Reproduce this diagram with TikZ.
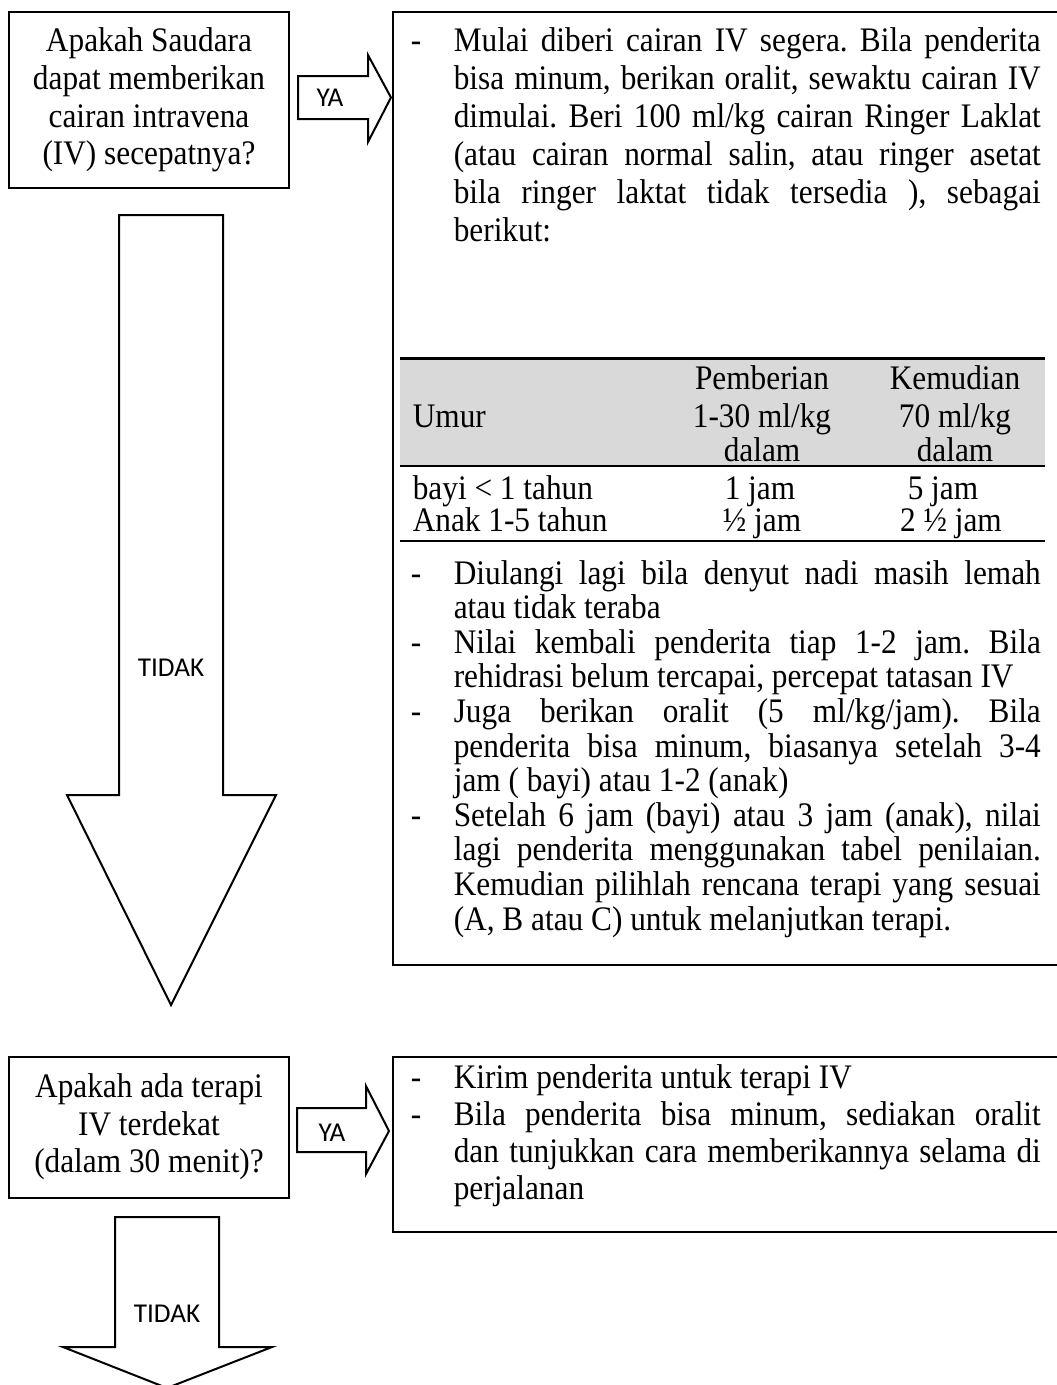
\documentclass[tikz,border=0pt]{standalone}
\usepackage{fontspec}
\setmainfont[FakeStretch=0.91]{Liberation Serif}
\newfontfamily\sanslab{Carlito}
\frenchspacing
\newcommand\serifsz{\fontsize{8.6}{9.5}\selectfont}
\tikzset{
  outl/.style={draw=black, line width=0.5pt, fill=white},
  txt/.style={anchor=base west, inner sep=0pt, font=\serifsz},
  dsh/.style={anchor=base, inner sep=0pt, font=\serifsz},
  ctr/.style={anchor=base, inner sep=0pt, font=\serifsz},
  lab/.style={inner sep=0pt, font=\sanslab\fontsize{6.8}{8}\selectfont},
  qtext/.style={inner sep=0pt, align=center, font=\fontsize{8.6}{9.4}\selectfont},
  rulethick/.style={line width=0.75pt},
  rulemid/.style={line width=0.6pt}
}
\newcommand\JL[3]{\node[txt] (#1) at (453,#2) {\makebox[146.75pt][s]{#3}};}
\newcommand\NL[3]{\node[txt] (#1) at (453,#2) {#3};}
\newcommand\DL[2]{\node[dsh] (#1) at (416,#2) {-};}
\begin{document}
\begin{tikzpicture}[x=0.25pt, y=-0.25pt]
\useasboundingbox (0,0) rectangle (1057,1385);
\clip (0,0) rectangle (1057,1385);
\fill[white] (0,0) rectangle (1057,1385);

% ---------- question boxes ----------
\draw[outl] (9,12) rectangle (289,188);
\node[qtext] (q1) at (149,100) {Apakah Saudara\\dapat memberikan\\cairan intravena\\(IV) secepatnya?};
\draw[outl] (9,1057) rectangle (289,1198);
\node[qtext] (q2) at (149,1127) {Apakah ada terapi\\IV terdekat\\(dalam 30 menit)?};

% ---------- YA arrows ----------
\draw[outl] (298,76) -- (368,76) -- (368,55) -- (391,97.5) -- (368,142) -- (368,119) -- (298,119) -- cycle;
\node[lab] (ya1) at (330,98) {YA};
\draw[outl] (297,1108) -- (366,1108) -- (366,1086) -- (389,1131) -- (366,1174) -- (366,1152) -- (297,1152) -- cycle;
\node[lab] (ya2) at (332,1133) {YA};

% ---------- TIDAK arrows ----------
\draw[outl] (119,215) -- (223,215) -- (223,795) -- (276,795) -- (171,1005) -- (67,795) -- (119,795) -- cycle;
\node[lab] (no1) at (171,668) {TIDAK};
\draw[outl] (115,1217) -- (219,1217) -- (219,1347) -- (272,1347) -- (167,1388) -- (63,1347) -- (115,1347) -- cycle;
\node[lab] (no2) at (167,1314) {TIDAK};

% ---------- action box 1 ----------
\draw[outl] (393,12) rectangle (1075,965);
\DL{d1}{51}
\JL{a1}{51}{Mulai diberi cairan IV segera. Bila penderita}
\JL{a2}{89}{bisa minum, berikan oralit, sewaktu cairan IV}
\JL{a3}{127}{dimulai. Beri 100 ml/kg cairan Ringer Laklat}
\JL{a4}{165}{(atau cairan normal salin, atau ringer asetat}
\JL{a5}{203}{bila ringer laktat tidak tersedia ), sebagai}
\NL{a6}{241}{berikut:}

% table
\fill[black!15] (400,358) rectangle (1045,466);
\draw[rulethick] (400,358) -- (1045,358);
\draw[rulemid] (400,466) -- (1045,466);
\draw[rulemid] (400,541) -- (1045,541);
\node[ctr] (h21) at (762,389) {Pemberian};
\node[ctr] (h31) at (955,389) {Kemudian};
\node[txt] (h11) at (412,427) {Umur};
\node[ctr] (h22) at (762,427) {1-30 ml/kg};
\node[ctr] (h32) at (955,427) {70 ml/kg};
\node[ctr] (h23) at (762,461) {dalam};
\node[ctr] (h33) at (955,461) {dalam};
\node[txt] (r11) at (412,499) {bayi < 1 tahun};
\node[ctr] (r12) at (760,499) {1 jam};
\node[ctr] (r13) at (943,499) {5 jam};
\node[txt] (r21) at (412,531) {Anak 1-5 tahun};
\node[ctr] (r22) at (762,531) {½ jam};
\node[ctr] (r23) at (951,531) {2 ½ jam};

\DL{d2}{584}
\JL{b1}{584}{Diulangi lagi bila denyut nadi masih lemah}
\NL{b2}{618.6}{atau tidak teraba}
\DL{d3}{653.2}
\JL{b3}{653.2}{Nilai kembali penderita tiap 1-2 jam. Bila}
\NL{b4}{687.8}{rehidrasi belum tercapai, percepat tatasan IV}
\DL{d4}{722.4}
\JL{b5}{722.4}{Juga berikan oralit (5 ml/kg/jam). Bila}
\JL{b6}{757}{penderita bisa minum, biasanya setelah 3-4}
\NL{b7}{791.6}{jam ( bayi) atau 1-2 (anak)}
\DL{d5}{826.2}
\JL{b8}{826.2}{Setelah 6 jam (bayi) atau 3 jam (anak), nilai}
\JL{b9}{860.8}{lagi penderita menggunakan tabel penilaian.}
\JL{b10}{895.4}{Kemudian pilihlah rencana terapi yang sesuai}
\NL{b11}{930}{(A, B atau C) untuk melanjutkan terapi.}

% ---------- action box 2 ----------
\draw[outl] (393,1057) rectangle (1075,1232);
\DL{d6}{1088}
\NL{c1}{1088}{Kirim penderita untuk terapi IV}
\DL{d7}{1125}
\JL{c2}{1125}{Bila penderita bisa minum, sediakan oralit}
\JL{c3}{1162}{dan tunjukkan cara memberikannya selama di}
\NL{c4}{1199}{perjalanan}
\end{tikzpicture}
\end{document}
